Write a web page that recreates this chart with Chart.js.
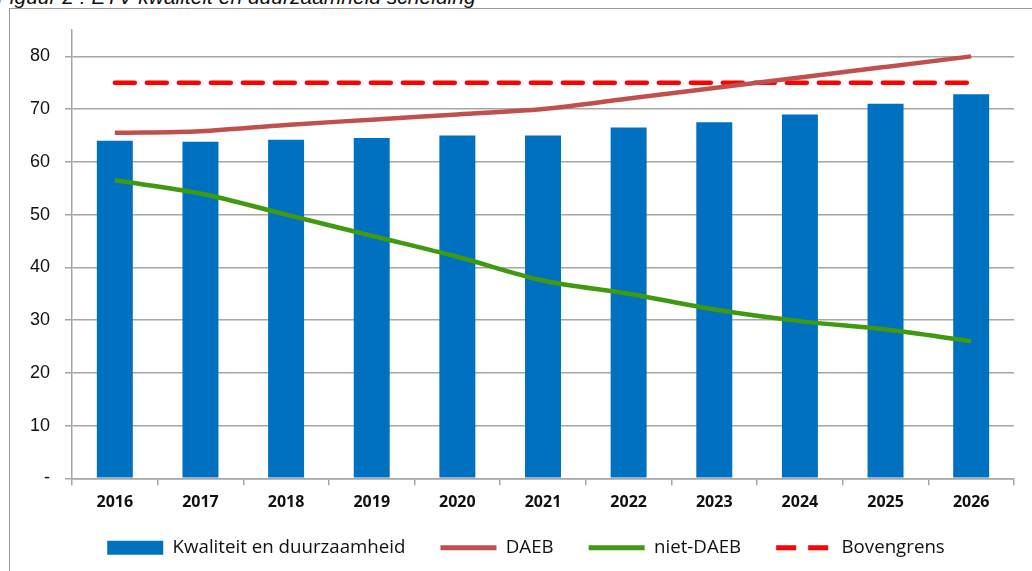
<!DOCTYPE html>
<html>
<head>
<meta charset="utf-8">
<script src="https://cdn.jsdelivr.net/npm/chart.js@4.4.1/dist/chart.umd.min.js"></script>
<style>
  html, body { margin: 0; padding: 0; background: #fff; overflow: hidden; }
  #wrap { position: relative; width: 1032px; height: 571px; }
  #title {
    position: absolute; left: -3px; top: -15px;
    font: italic 21px "Liberation Sans", Arial, sans-serif; color: #111;
    white-space: nowrap;
  }
  #frame {
    position: absolute; left: 9px; top: 8px; width: 1030px; height: 600px;
    border-left: 1.5px solid #9a9a9a; border-top: 1.5px solid #9a9a9a;
  }
  canvas { position: absolute; left: 0; top: 0; }
</style>
</head>
<body>
<div id="wrap">
  <div id="title">Figuur 2 : ETV kwaliteit en duurzaamheid scheiding</div>
  <div id="frame"></div>
  <canvas id="chart" width="1032" height="571"></canvas>
</div>
<script>
const years = ["2016","2017","2018","2019","2020","2021","2022","2023","2024","2025","2026"]

const kwaliteit = [64, 63.8, 64.2, 64.5, 65, 65, 66.5, 67.5, 69, 71, 72.8]
const daeb = [65.5, 65.8, 67, 68, 69, 70, 72, 74, 76, 78, 80]
const nietDaeb = [56.5, 54, 50, 46, 42, 37.5, 35, 32, 29.8, 28.2, 26]
const bovengrens = [75, 75, 75, 75, 75, 75, 75, 75, 75, 75, 75]

const yTicks = [0, 10, 20, 30, 40, 50, 60, 70, 80]

const gridColor = "#a6a6a6"

const ctx = document.getElementById("chart").getContext("2d")

// labels sit outside the (narrowed) axis boxes, so don't clip them
const noClip = () => undefined

new Chart(ctx,{

    data:{

        labels:years,

        datasets:[
            {
                type:"bar",
                label:"Kwaliteit en duurzaamheid",
                data:kwaliteit,
                backgroundColor:"#0070c0",
                borderWidth:0,
                barPercentage:0.84,
                categoryPercentage:0.5,
                order:4
            },
            {
                type:"line",
                label:"DAEB",
                data:daeb,
                borderColor:"#c0504d",
                borderWidth:4.5,
                pointRadius:0,
                cubicInterpolationMode:"monotone",
                order:2
            },
            {
                type:"line",
                label:"niet-DAEB",
                data:nietDaeb,
                borderColor:"#3f9a0f",
                borderWidth:4.5,
                pointRadius:0,
                cubicInterpolationMode:"monotone",
                order:1
            },
            {
                type:"line",
                label:"Bovengrens",
                data:bovengrens,
                borderColor:"#ff0000",
                borderWidth:4.5,
                borderDash:[20,12],
                borderCapStyle:"round",
                pointRadius:0,
                order:3
            }
        ]

    },

    options:{

        responsive:false,
        animation:false,

        layout:{
            padding:{left:38, right:18, top:30, bottom:4}
        },

        plugins:{
            tooltip:{enabled:false},
            legend:{
                position:"bottom",
                labels:{
                    usePointStyle:true,
                    pointStyleWidth:56,
                    boxHeight:14,
                    padding:35,
                    color:"#111",
                    font:{family:"'Open Sans', sans-serif", size:18.7},
                    generateLabels(chart){
                        return chart.data.datasets.map((ds,i)=>({
                            text:ds.label,
                            datasetIndex:i,
                            fillStyle:ds.type === "bar" ? ds.backgroundColor : ds.borderColor,
                            strokeStyle:ds.type === "bar" ? ds.backgroundColor : ds.borderColor,
                            lineWidth:ds.type === "bar" ? 0 : 5,
                            lineDash:ds.borderDash || [],
                            lineCap:"butt",
                            pointStyle:ds.type === "bar" ? "rect" : "line",
                            fontColor:"#111"
                        }))
                    }
                }
            }
        },

        scales:{

            x:{
                grid:{
                    offset:true,
                    drawOnChartArea:false,
                    drawTicks:true,
                    tickLength:7,
                    color:gridColor,
                    lineWidth:1.5
                },
                border:{color:gridColor, width:1.5},
                ticks:{
                    color:"#111",
                    padding:8,
                    font:{family:"'Open Sans', sans-serif", size:16, weight:"bold"}
                },
                afterFit(axis){
                    axis.height = 25
                    axis._computeLabelArea = noClip
                }
            },

            y:{
                min:0,
                max:85,
                afterBuildTicks(axis){
                    axis.ticks = yTicks.map(v=>({value:v}))
                },
                grid:{
                    color:gridColor,
                    lineWidth:1.5,
                    tickLength:7
                },
                border:{color:gridColor, width:1.5},
                ticks:{
                    color:"#111",
                    padding:15,
                    font:{family:"'Liberation Sans', Arial, sans-serif", size:18},
                    callback:(v)=> v === 0 ? "-" : v
                },
                afterFit(axis){
                    axis.width = 34
                    axis._computeLabelArea = noClip
                }
            }

        }

    }

})
</script>
</body>
</html>
